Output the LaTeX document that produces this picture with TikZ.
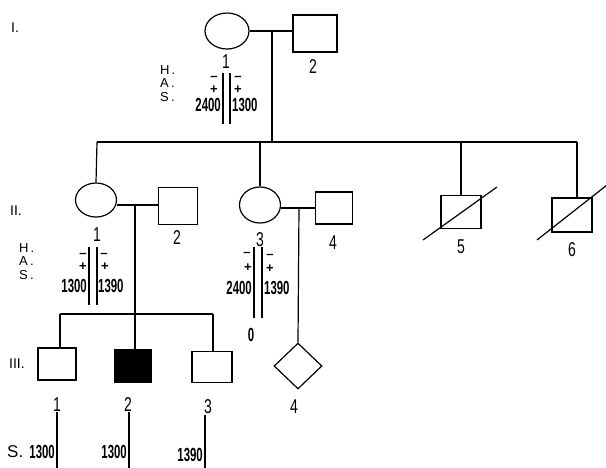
\documentclass[tikz,border=0pt]{standalone}
\usepackage{fontspec}
\setmainfont{Liberation Sans}
\usetikzlibrary{shapes.geometric}
\tikzset{
  ln/.style={line width=1.2pt, black},
  fem/.style={ellipse, draw, line width=1.2pt, inner sep=0pt},
  mal/.style={rectangle, draw, line width=1.2pt, inner sep=0pt},
  unk/.style={diamond, draw, line width=1.2pt, inner sep=0pt, minimum width=48pt, minimum height=46pt},
  lab/.style={inner sep=0pt, font=\fontsize{20}{20}\selectfont},
  gen/.style={inner sep=0pt, anchor=west, font=\fontsize{14}{14}\selectfont},
  let/.style={inner sep=0pt, anchor=west, font=\fontsize{17}{17}\selectfont},
  has/.style={inner sep=0pt, anchor=west, font=\fontsize{13}{13}\selectfont},
  pm/.style={inner sep=0pt, font=\bfseries\fontsize{13}{13}\selectfont},
  num/.style={inner sep=0pt, font=\bfseries\fontsize{19}{19}\selectfont},
}
\newcommand{\narrowlab}[1]{\scalebox{0.7}[1]{#1}}
\newcommand{\narrownum}[1]{\scalebox{0.6}[1]{#1}}
\begin{document}
\begin{tikzpicture}[x=1pt, y=-1pt]
\useasboundingbox (0,0) rectangle (606,467);
\fill[white] (0,0) rectangle (606,467);

% generation labels
\node[gen] (gI) at (11,28) {I.};
\node[gen] (gII) at (10,211) {II.};
\node[gen] (gIII) at (9,364) {III.};

% Generation I
\node[fem, minimum width=44pt, minimum height=36pt] (I1) at (227,31) {};
\node[mal, minimum width=44pt, minimum height=37pt] (I2) at (315,33.5) {};
\coordinate (mI) at (272,31);
\draw[ln] (I1.east) -- (mI) -- (I2.west |- mI);
\node[lab] (lI1) at (226,62) {\narrowlab{1}};
\node[lab] (lI2) at (313,67) {\narrowlab{2}};

% Generation II
\node[fem, minimum width=41pt, minimum height=34pt] (II1) at (96,200) {};
\node[mal, minimum width=39pt, minimum height=37pt] (II2) at (178,206) {};
\node[fem, minimum width=41pt, minimum height=36pt] (II3) at (260,205) {};
\node[mal, minimum width=37pt, minimum height=32pt] (II4) at (334,208) {};
\node[mal, minimum width=40pt, minimum height=33pt] (II5) at (461,212) {};
\node[mal, minimum width=40pt, minimum height=34pt] (II6) at (572,215) {};
\coordinate (sL) at (97,142);
\coordinate (sR) at (577,142);
\draw[ln] (sL) -- (sR);
\draw[ln] (mI) -- (mI |- sL);
\draw[ln] (sL) -- (II1.north);
\draw[ln] (II3.north |- sL) -- (II3.north);
\draw[ln] (II5.north |- sL) -- (II5.north);
\draw[ln] (sR) -- (sR |- II6.north);
\coordinate (d5a) at (423,240);
\coordinate (d5b) at (497,187);
\coordinate (d6a) at (537,240);
\coordinate (d6b) at (607,185);
\draw[ln] (d5a) -- (d5b);
\draw[ln] (d6a) -- (d6b);
\node[lab] (lII1) at (97,235) {\narrowlab{1}};
\node[lab] (lII2) at (177,238) {\narrowlab{2}};
\node[lab] (lII3) at (260,240) {\narrowlab{3}};
\node[lab] (lII4) at (333,243) {\narrowlab{4}};
\node[lab] (lII5) at (461,247) {\narrowlab{5}};
\node[lab] (lII6) at (572,250) {\narrowlab{6}};

% marriages II
\coordinate (mA) at (135,205);
\draw[ln] (II1.east |- mA) -- (II2.west |- mA);
\coordinate (mB) at (299,208);
\draw[ln] (II3.east |- mB) -- (II4.west |- mB);

% Generation III
\node[mal, minimum width=38pt, minimum height=32pt] (III1) at (57,364) {};
\node[mal, fill=black, minimum width=37pt, minimum height=32pt] (III2) at (133,366) {};
\node[mal, minimum width=40pt, minimum height=31pt] (III3) at (212,367) {};
\node[unk] (III4) at (298,366) {};
\coordinate (tL) at (60,314);
\coordinate (tR) at (213,314);
\draw[ln] (tL) -- (tR);
\draw[ln] (mA) -- (mA |- tL) -- (mA |- III2.north);
\draw[ln] (tL) -- (tL |- III1.north);
\draw[ln] (tR) -- (tR |- III3.north);
\draw[ln] (mB) -- (III4.north);
\node[lab] (lIII1) at (57,405) {\narrowlab{1}};
\node[lab] (lIII2) at (128,405) {\narrowlab{2}};
\node[lab] (lIII3) at (208,407) {\narrowlab{3}};
\node[lab] (lIII4) at (294,407) {\narrowlab{4}};

% bottom lines
\coordinate (b1a) at (57,412); \coordinate (b1b) at (57,468);
\coordinate (b2a) at (129,412); \coordinate (b2b) at (129,468);
\coordinate (b3a) at (205,415); \coordinate (b3b) at (205,468);
\draw[ln] (b1a) -- (b1b);
\draw[ln] (b2a) -- (b2b);
\draw[ln] (b3a) -- (b3b);
\node[let] (bS) at (7,452) {S.};
\node[num, anchor=east] (bn1) at (55,452) {\narrownum{1300}};
\node[num, anchor=east] (bn2) at (127,452) {\narrownum{1300}};
\node[num, anchor=east] (bn3) at (203,455) {\narrownum{1390}};

% annotation I-1
\node[has] (hI) at (160,70) {H\,.};
\node[has] (aI) at (160,83.5) {A\,.};
\node[has] (sI) at (160,97) {S\,.};
\coordinate (vIa) at (223,73); \coordinate (vIb) at (223,124);
\coordinate (wIa) at (230,73); \coordinate (wIb) at (230,124);
\draw[ln] (vIa) -- (vIb);
\draw[ln] (wIa) -- (wIb);
\node[pm] (mI1) at (214,78) {--};
\node[pm] (pI1) at (214,90) {+};
\node[pm] (mI2) at (238,78) {--};
\node[pm] (pI2) at (238,90) {+};
\node[num, anchor=east] (nI1) at (221,105) {\narrownum{2400}};
\node[num, anchor=west] (nI2) at (232,105) {\narrownum{1300}};

% annotation II-1
\node[has] (hII) at (19,248) {H\,.};
\node[has] (aII) at (19,261.5) {A\,.};
\node[has] (sII) at (19,275) {S\,.};
\coordinate (vIIa) at (89,247); \coordinate (vIIb) at (89,305);
\coordinate (wIIa) at (97,247); \coordinate (wIIb) at (97,305);
\draw[ln] (vIIa) -- (vIIb);
\draw[ln] (wIIa) -- (wIIb);
\node[pm] (mII1) at (83,255) {--};
\node[pm] (pII1) at (83,267) {+};
\node[pm] (mII2) at (104,255) {--};
\node[pm] (pII2) at (105,267) {+};
\node[num, anchor=east] (nII1) at (87,286) {\narrownum{1300}};
\node[num, anchor=west] (nII2) at (98,286) {\narrownum{1390}};

% annotation II-3
\coordinate (vIIIa) at (254,247); \coordinate (vIIIb) at (254,318);
\coordinate (wIIIa) at (262,247); \coordinate (wIIIb) at (262,318);
\draw[ln] (vIIIa) -- (vIIIb);
\draw[ln] (wIIIa) -- (wIIIb);
\node[pm] (mIII1) at (247,254) {--};
\node[pm] (pIII1) at (248,268) {+};
\node[pm] (mIII2) at (270,256) {--};
\node[pm] (pIII2) at (270,269) {+};
\node[num, anchor=east] (nIII1) at (252,288) {\narrownum{2400}};
\node[num, anchor=west] (nIII2) at (264,288) {\narrownum{1390}};
\node[num] (zero) at (251,335) {\narrownum{0}};
\end{tikzpicture}
\end{document}
